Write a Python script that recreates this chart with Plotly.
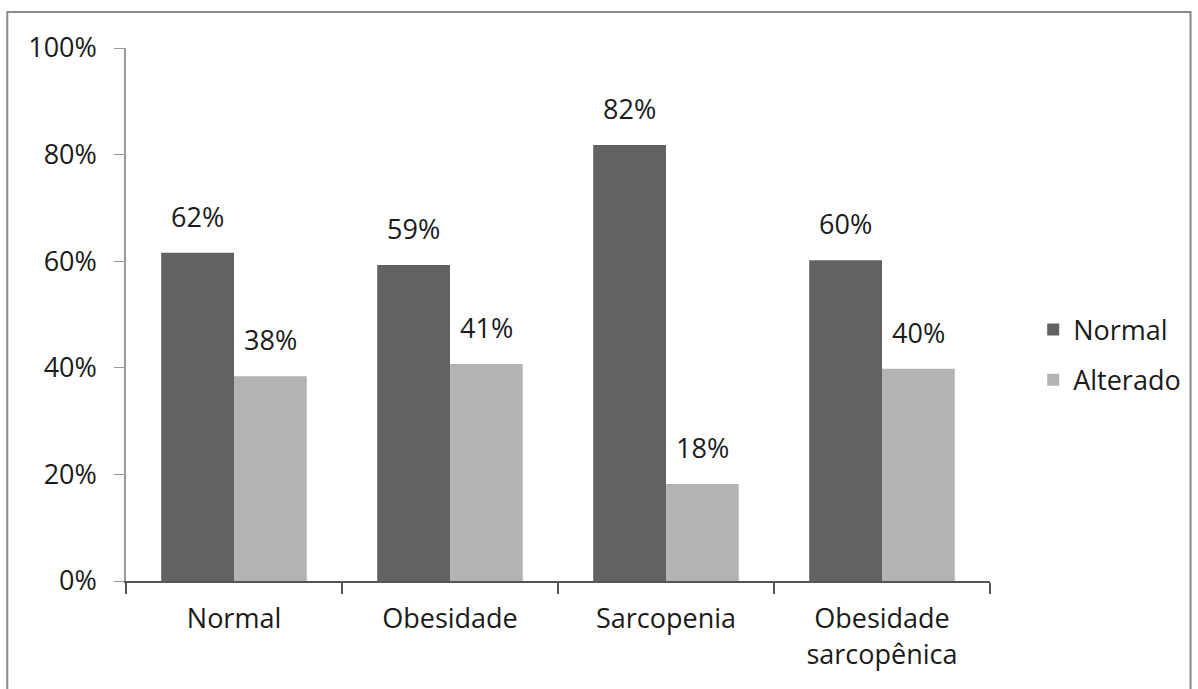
import plotly.graph_objects as go

categories = ["Normal", "Obesidade", "Sarcopenia", "Obesidade<br>sarcopênica"]
normal_vals = [61.6, 59.3, 81.8, 60.2]
alterado_vals = [38.4, 40.7, 18.2, 39.8]
normal_labels = ["62%", "59%", "82%", "60%"]
alterado_labels = ["38%", "41%", "18%", "40%"]
y_ticks = [0, 20, 40, 60, 80, 100]
y_tick_labels = ["0%", "20%", "40%", "60%", "80%", "100%"]

FONT = "Open Sans"
FS = 27
TXT = "#1a1a1a"
DARK = "#626262"
LIGHT = "#b3b3b3"

fig = go.Figure()
fig.add_trace(go.Bar(name="Normal", x=categories, y=normal_vals, marker_color=DARK,
                     marker_line_width=0, legendgroup="a"))
fig.add_trace(go.Bar(name="Alterado", x=categories, y=alterado_vals, marker_color=LIGHT,
                     marker_line_width=0, legendgroup="b"))

annotations = []
for i, c in enumerate(categories):
    annotations.append(dict(x=c, y=normal_vals[i], text=normal_labels[i], showarrow=False,
                            xref="x", yref="y", yanchor="bottom", yshift=16, xshift=-36.5,
                            font=dict(family=FONT, size=FS, color=TXT)))
    annotations.append(dict(x=c, y=alterado_vals[i], text=alterado_labels[i], showarrow=False,
                            xref="x", yref="y", yanchor="bottom", yshift=16, xshift=36.5,
                            font=dict(family=FONT, size=FS, color=TXT)))

fig.update_layout(
    width=1198, height=689,
    margin=dict(l=126, r=206, t=48, b=108),
    paper_bgcolor="white", plot_bgcolor="white",
    barmode="group", bargap=0.326, bargroupgap=0,
    font=dict(family=FONT, size=FS, color=TXT),
    showlegend=True,
    legend=dict(x=1.05, xanchor="left", y=0.424, yanchor="middle",
                font=dict(family=FONT, size=FS, color=TXT),
                tracegroupgap=12, traceorder="grouped", bgcolor="rgba(0,0,0,0)"),
    annotations=annotations,
    shapes=[dict(type="rect", xref="paper", yref="paper",
                 x0=-0.1374, x1=1.2321, y0=-0.21, y1=1.0675,
                 line=dict(color="#8a8a8a", width=2), fillcolor="rgba(0,0,0,0)", layer="below")],
)
fig.update_xaxes(showline=True, linecolor="#555", linewidth=2, ticks="outside", ticklen=11,
                 tickwidth=2, tickcolor="#555", tickson="boundaries", showgrid=False,
                 ticklabelstandoff=13, tickfont=dict(family=FONT, size=FS, color=TXT))
fig.update_yaxes(range=[0, 100], tickvals=y_ticks, ticktext=y_tick_labels, showline=True,
                 linecolor="#999", linewidth=1.5, ticks="outside", ticklen=10, tickcolor="#999",
                 showgrid=False, zeroline=False, ticklabelstandoff=12,
                 tickfont=dict(family=FONT, size=FS, color=TXT))

fig.write_html("out.html")
